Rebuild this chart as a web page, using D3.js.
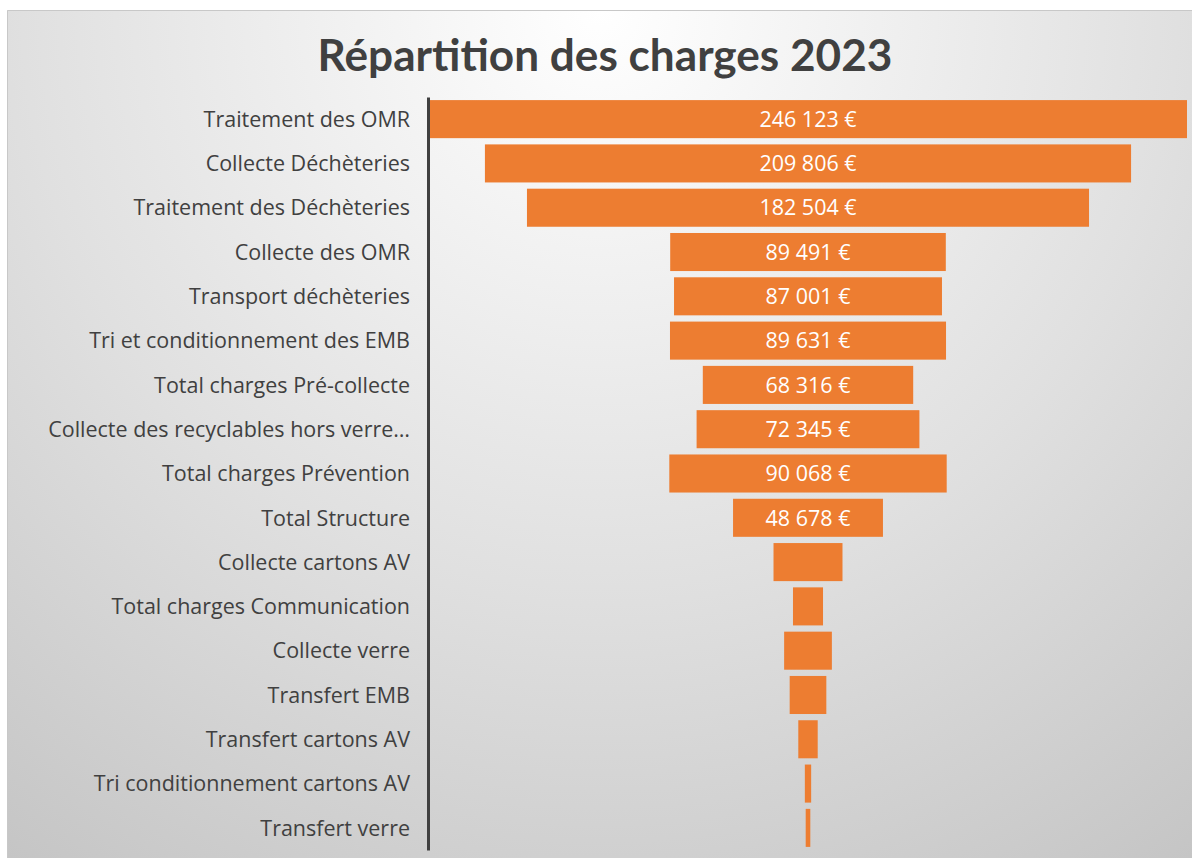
<!DOCTYPE html>
<html lang="fr">
<head>
<meta charset="utf-8">
<title>Répartition des charges 2023</title>
<script src="https://cdn.jsdelivr.net/npm/d3@7/dist/d3.min.js"></script>
<style>
  html, body { margin: 0; padding: 0; background: #ffffff; }
  svg { display: block; }
</style>
</head>
<body>
<svg id="chart" width="1192" height="858"></svg>
<script>
// Libellés des postes de charges (du plus grand au plus petit, ordre du graphique)
const categories = [
  "Traitement des OMR",
  "Collecte Déchèteries",
  "Traitement des Déchèteries",
  "Collecte des OMR",
  "Transport déchèteries",
  "Tri et conditionnement des EMB",
  "Total charges Pré-collecte",
  "Collecte des recyclables hors verre…",
  "Total charges Prévention",
  "Total Structure",
  "Collecte cartons AV",
  "Total charges Communication",
  "Collecte verre",
  "Transfert EMB",
  "Transfert cartons AV",
  "Tri conditionnement cartons AV",
  "Transfert verre"
];

// Montants en euros
const values = [
  246123, 209806, 182504, 89491, 87001, 89631, 68316, 72345, 90068,
  48678, 22400, 9750, 15500, 11900, 6300, 2050, 1500
];

const title = "Répartition des charges 2023";

const W = 1192, H = 858;
const TITLE_FONT = "Lato, 'Open Sans', sans-serif";
const FONT = "'Open Sans', Lato, sans-serif";
const TEXT = "#404040";
const ORANGE = "#ED7D31";

const svg = d3.select("#chart");
const defs = svg.append("defs");

// Fond : dégradé radial clair en haut au centre, gris vers les bords
const grad = defs.append("radialGradient")
  .attr("id", "bg")
  .attr("gradientUnits", "userSpaceOnUse")
  .attr("cx", 600).attr("cy", 10).attr("r", 1050);
grad.append("stop").attr("offset", 0).attr("stop-color", "#ffffff");
grad.append("stop").attr("offset", 0.55).attr("stop-color", "#e0e0e0");
grad.append("stop").attr("offset", 1).attr("stop-color", "#c4c4c4");

svg.append("rect")
  .attr("x", 7).attr("y", 10)
  .attr("width", W - 7).attr("height", H - 10)
  .attr("fill", "url(#bg)");
svg.append("path")
  .attr("d", `M7.5,${H}V10.5H${W}`)
  .attr("fill", "none")
  .attr("stroke", "#c8c8c8")
  .attr("stroke-width", 1);

// Titre (taille ajustée à la largeur voulue)
const titleEl = svg.append("text")
  .attr("x", 605).attr("y", 71)
  .attr("text-anchor", "middle")
  .attr("font-family", TITLE_FONT)
  .attr("font-weight", "bold")
  .attr("font-size", 44)
  .attr("fill", TEXT)
  .text(title);
{
  const w = titleEl.node().getComputedTextLength();
  titleEl.attr("font-size", 44 * 575 / w);
}

// Taille du texte des libellés : le plus long doit occuper ~362 px
let labelSize = 18;
{
  const probe = svg.append("text")
    .attr("font-family", FONT).attr("font-size", 18)
    .text(categories[7]);
  labelSize = 18 * 362 / probe.node().getComputedTextLength();
  probe.remove();
}

// Échelles
const axisX = 428;
const centerX = 808;
const y = d3.scaleBand()
  .domain(categories)
  .range([97, 850])
  .paddingInner(0.141)
  .paddingOuter(0.07);

const wScale = d3.scaleLinear()
  .domain([0, d3.max(values)])
  .range([0, 758]);

const rows = categories.map((c, i) => ({ cat: c, val: values[i] }));

// Barres centrées (entonnoir)
const g = svg.append("g");
g.selectAll("rect.bar")
  .data(rows)
  .join("rect")
  .attr("class", "bar")
  .attr("x", d => centerX - wScale(d.val) / 2)
  .attr("y", d => y(d.cat))
  .attr("width", d => wScale(d.val))
  .attr("height", y.bandwidth())
  .attr("fill", ORANGE);

// Étiquettes de valeurs (format français)
const fr = d3.formatLocale({
  decimal: ",",
  thousands: "\u00a0",
  grouping: [3],
  currency: ["", "\u00a0€"]
});
const fmt = fr.format("$,.0f");

g.selectAll("text.val")
  .data(rows)
  .join("text")
  .attr("class", "val")
  .attr("x", centerX)
  .attr("y", d => y(d.cat) + y.bandwidth() / 2)
  .attr("dy", "0.36em")
  .attr("text-anchor", "middle")
  .attr("font-family", FONT)
  .attr("font-size", labelSize)
  .attr("fill", "#ffffff")
  .text(d => fmt(d.val))
  .each(function(d) {
    // n'afficher que si l'étiquette tient dans la barre
    if (this.getComputedTextLength() + 10 > wScale(d.val)) d3.select(this).remove();
  });

// Axe des catégories
const axis = svg.append("g")
  .attr("transform", `translate(${axisX},0)`)
  .call(d3.axisLeft(y).tickSizeInner(0).tickSizeOuter(0).tickPadding(18));
axis.select(".domain")
  .attr("stroke", TEXT)
  .attr("stroke-width", 3);
axis.selectAll(".tick text")
  .attr("font-family", FONT)
  .attr("font-size", labelSize)
  .attr("dy", "0.36em")
  .attr("fill", TEXT);
</script>
</body>
</html>
